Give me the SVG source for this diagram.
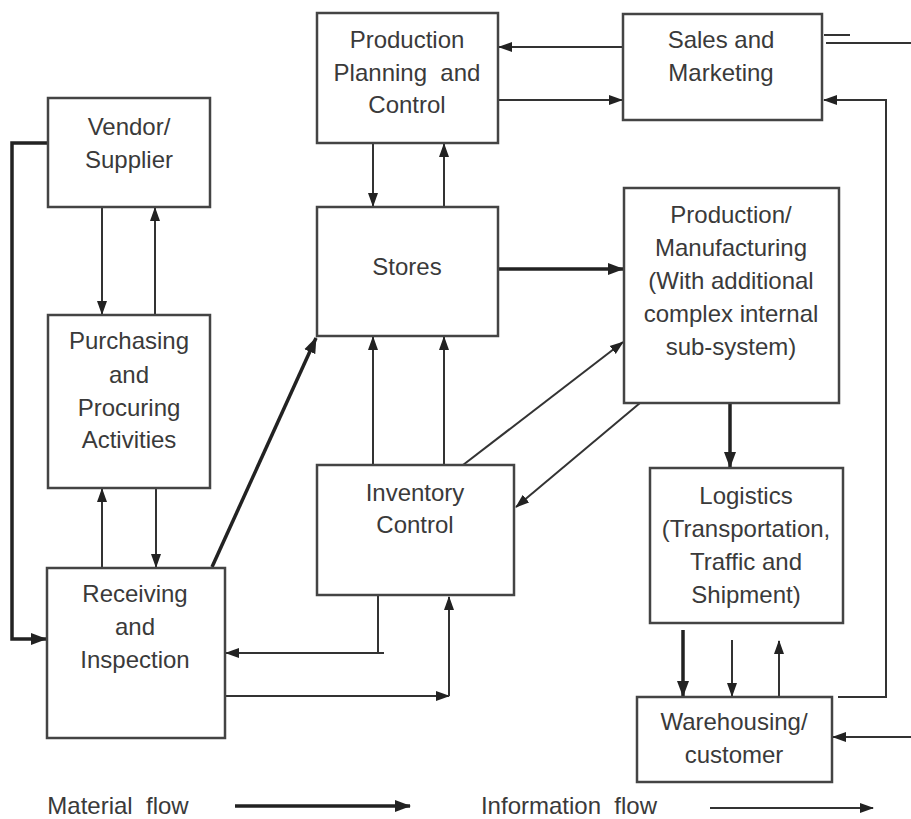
<svg xmlns="http://www.w3.org/2000/svg" width="911" height="819" viewBox="0 0 911 819">
<defs>
<marker id="a" markerUnits="userSpaceOnUse" markerWidth="14" markerHeight="12" viewBox="0 0 14 12" refX="13" refY="6" orient="auto"><path d="M0,1 L14,6 L0,11 Z" fill="#222"/></marker>
<marker id="b" markerUnits="userSpaceOnUse" markerWidth="16" markerHeight="14" viewBox="0 0 16 14" refX="15" refY="7" orient="auto"><path d="M0,1 L16,7 L0,13 Z" fill="#222"/></marker>
<style>
rect{fill:#fff;stroke:#444;stroke-width:2.5}
text{font-family:"Liberation Sans",Arial,sans-serif;font-size:24px;fill:#3a3a3a;text-anchor:middle;white-space:pre}
.t{fill:none;stroke:#333;stroke-width:2}
.k{fill:none;stroke:#222;stroke-width:3.5}
</style>
</defs>
<rect x="0" y="0" width="911" height="819" style="fill:#fff;stroke:none"/>
<g id="connectors">
<path class="t" d="M623,47 H499" marker-end="url(#a)"/>
<path class="t" d="M498,100 H622" marker-end="url(#a)"/>
<path class="t" d="M824,35 H850 M826,43 H911"/>
<path class="t" d="M838,697 H886 V100 H824" marker-end="url(#a)"/>
<path class="t" d="M911,737 H833" marker-end="url(#a)"/>
<path class="k" d="M48,143 H12 V639 H46" marker-end="url(#b)"/>
<path class="t" d="M102,207 V314" marker-end="url(#a)"/>
<path class="t" d="M155,315 V208" marker-end="url(#a)"/>
<path class="t" d="M102,568 V489" marker-end="url(#a)"/>
<path class="t" d="M156,488 V567" marker-end="url(#a)"/>
<path class="k" d="M212,567 L316,338" marker-end="url(#b)"/>
<path class="t" d="M373,143 V206" marker-end="url(#a)"/>
<path class="t" d="M444,207 V144" marker-end="url(#a)"/>
<path class="k" d="M498,269 H623" marker-end="url(#b)"/>
<path class="t" d="M373,465 V337" marker-end="url(#a)"/>
<path class="t" d="M444,465 V337" marker-end="url(#a)"/>
<path class="t" d="M463,465 L623,342" marker-end="url(#a)"/>
<path class="t" d="M640,403 L516,507" marker-end="url(#a)"/>
<path class="k" d="M730,403 V467" marker-end="url(#b)"/>
<path class="t" d="M378,596 V653 H226" marker-end="url(#a)"/>
<path class="t" d="M378,653 H384"/>
<path class="t" d="M225,696 H449" marker-end="url(#a)"/>
<path class="t" d="M449,696 V597" marker-end="url(#a)"/>
<path class="k" d="M683,630 V696" marker-end="url(#b)"/>
<path class="t" d="M732,640 V696" marker-end="url(#a)"/>
<path class="t" d="M779,697 V641" marker-end="url(#a)"/>
<path class="k" d="M235,806 H410" marker-end="url(#b)"/>
<path class="t" d="M710,808 H873" marker-end="url(#a)"/>
</g>
<g id="ppc"><rect x="317" y="13" width="181" height="130"/><text x="407" y="48">Production</text><text x="407" y="81" xml:space="preserve">Planning  and</text><text x="407" y="113">Control</text></g>
<g id="sales"><rect x="623" y="14" width="199" height="106"/><text x="721" y="48">Sales and</text><text x="721" y="81">Marketing</text></g>
<g id="vendor"><rect x="48" y="98" width="162" height="109"/><text x="129" y="135">Vendor/</text><text x="129" y="168">Supplier</text></g>
<g id="purchasing"><rect x="48" y="315" width="162" height="173"/><text x="129" y="349">Purchasing</text><text x="129" y="383">and</text><text x="129" y="416">Procuring</text><text x="129" y="448">Activities</text></g>
<g id="receiving"><rect x="47" y="568" width="178" height="170"/><text x="135" y="602">Receiving</text><text x="135" y="635">and</text><text x="135" y="668">Inspection</text></g>
<g id="stores"><rect x="317" y="207" width="181" height="129"/><text x="407" y="275">Stores</text></g>
<g id="production"><rect x="624" y="188" width="215" height="215"/><text x="731" y="223">Production/</text><text x="731" y="256">Manufacturing</text><text x="731" y="289">(With additional</text><text x="731" y="322">complex internal</text><text x="731" y="355">sub-system)</text></g>
<g id="inventory"><rect x="317" y="465" width="197" height="130"/><text x="415" y="501">Inventory</text><text x="415" y="533">Control</text></g>
<g id="logistics"><rect x="650" y="468" width="193" height="155"/><text x="746" y="504">Logistics</text><text x="746" y="537">(Transportation,</text><text x="746" y="570">Traffic and</text><text x="746" y="603">Shipment)</text></g>
<g id="warehousing"><rect x="637" y="697" width="195" height="85"/><text x="734" y="730">Warehousing/</text><text x="734" y="763">customer</text></g>
<g id="legend"><text x="118" y="814" xml:space="preserve">Material  flow</text><text x="569" y="814" xml:space="preserve">Information  flow</text></g>
</svg>
